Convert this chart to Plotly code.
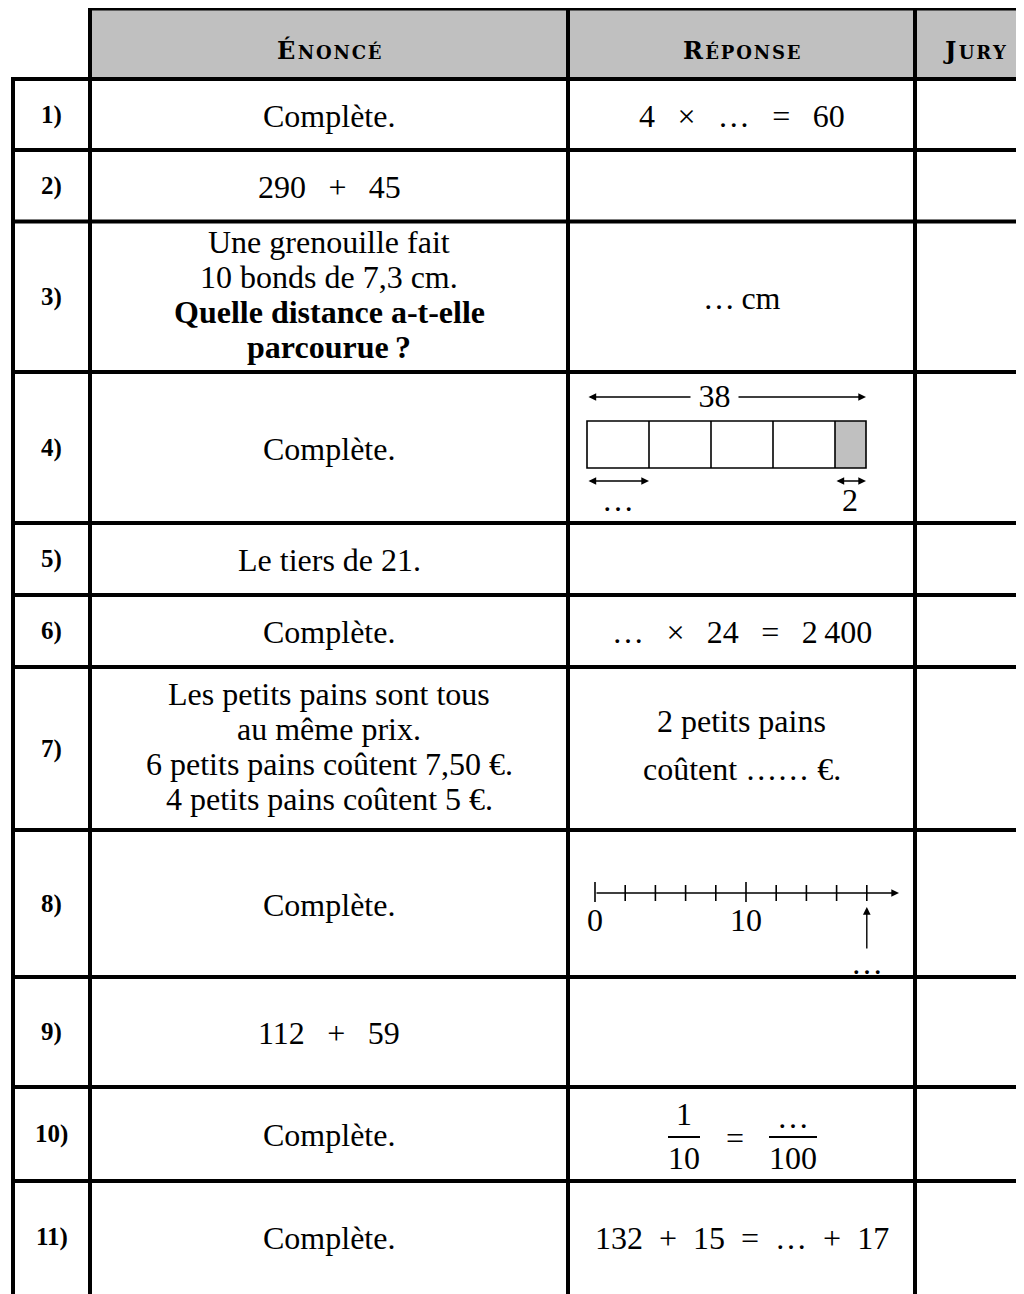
import plotly.graph_objects as go

W, H = 1024, 1294
PAD = 8  # default body margin of the html page
SERIF = "Liberation Serif"
HEAD = "DejaVu Serif"
GRAY = "#c0c0c0"

# --- content -------------------------------------------------------------
headers = ["Énoncé", "Réponse", "Jury"]
row_labels = ["1)", "2)", "3)", "4)", "5)", "6)", "7)", "8)", "9)", "10)", "11)"]

G = "\u2002\u2009"   # math spacing around operators
enonce = [
    ["Complète."],
    ["290" + G + "+" + G + "45"],
    ["Une grenouille fait", "10 bonds de 7,3 cm.",
     "<b>Quelle distance a-t-elle</b>", "<b>parcourue\u2009?</b>"],
    ["Complète."],
    ["Le tiers de 21."],
    ["Complète."],
    ["Les petits pains sont tous", "au même prix.",
     "6 petits pains coûtent 7,50 €.", "4 petits pains coûtent 5 €."],
    ["Complète."],
    ["112" + G + "+" + G + "59"],
    ["Complète."],
    ["Complète."],
]
reponse = [
    ["4" + G + "×" + G + "…" + G + "=" + G + "60"],
    [],
    ["…\u2009cm"],
    "bar",
    [],
    ["…" + G + "×" + G + "24" + G + "=" + G + "2\u2009400"],
    ["2 petits pains", "coûtent …… €."],
    "numberline",
    [],
    "fraction",
    ["132\u2002+\u200215\u2002=\u2002…\u2002+\u200217"],
]

# bar model (row 4)
bar_total = "38"
bar_cells = 4
bar_rest = "2"
bar_unknown = "…"

# number line (row 8)
nl_ticks = [0, 2, 4, 6, 8, 10, 12, 14, 16, 18]
nl_major = [0, 10]
nl_target = 18
nl_target_label = "…"

# fraction (row 10)
frac_left = ("1", "10")
frac_right = ("…", "100")

# --- layout of the grid (page pixels) -------------------------------------
col_x = [13, 90, 568, 915, W + PAD]
row_y = [8.5, 79, 150, 221.5, 372, 523, 595, 667, 830, 977, 1087, 1181, H + PAD]

fig = go.Figure()
shapes = []
ann = []


def line(x0, y0, x1, y1, w=4):
    shapes.append(dict(type="line", xref="x", yref="y", x0=x0, y0=y0, x1=x1, y1=y1,
                       line=dict(color="black", width=w)))


def text(x, y, s, size=32, family=SERIF, bold=False, bg=None):
    if bold:
        s = "<b>" + s + "</b>"
    a = dict(x=x, y=y, xref="x", yref="y", text=s, showarrow=False,
             xanchor="center", yanchor="middle",
             font=dict(family=family, size=size, color="black"))
    if bg:
        a["bgcolor"] = bg
    ann.append(a)


def arrow(x0, y0, x1, y1, both=False):
    ann.append(dict(x=x1, y=y1, ax=x0, ay=y0, xref="x", yref="y", axref="x", ayref="y",
                    text="", showarrow=True, arrowhead=2, arrowsize=1.1, arrowwidth=1.4,
                    arrowcolor="black", arrowside="end+start" if both else "end"))


def smallcaps(word, small=18):
    rest = "\u200a".join(word[1:].upper())
    return ("<b>" + word[0].upper() + "\u200a<span style='font-size:%dpx'>%s</span></b>"
            % (small, rest))


# header band
shapes.append(dict(type="rect", xref="x", yref="y", x0=col_x[1], x1=col_x[4], y0=row_y[0], y1=row_y[1],
                   fillcolor=GRAY, line=dict(width=0), layer="below"))
for i, h in enumerate(headers):
    cx = (col_x[i + 1] + col_x[i + 2]) / 2 if i < 2 else 975
    text(cx, 50, smallcaps(h), size=24, family=HEAD)

# grid lines
line(col_x[1] - 2, row_y[0], col_x[4], row_y[0])
for y in row_y[1:-1]:
    line(col_x[0] - 2, y, col_x[4], y)
line(col_x[0], row_y[1], col_x[0], row_y[-1])
for x in col_x[1:4]:
    line(x, row_y[0] - 2, x, row_y[-1])

# rows
for r in range(len(row_labels)):
    top, bot = row_y[r + 1], row_y[r + 2]
    mid = (top + bot) / 2
    if r == len(row_labels) - 1:
        mid = 1237
    text((col_x[0] + col_x[1]) / 2, mid, row_labels[r], size=25, bold=True)

    cx = (col_x[1] + col_x[2]) / 2
    lines = enonce[r]
    n = len(lines)
    for k, s in enumerate(lines):
        y = (mid - 2 if n > 1 else mid + 1) + (k - (n - 1) / 2) * 35
        text(cx, y, s)

    rx = (col_x[2] + col_x[3]) / 2
    rep = reponse[r]
    if isinstance(rep, list):
        n = len(rep)
        for k, s in enumerate(rep):
            y = (mid - 4 if n > 1 else mid + 1) + (k - (n - 1) / 2) * 48
            text(rx, y, s)

    elif rep == "bar":
        left, cw, rw, yt, yb = 587, 62, 31, 421, 468
        right = left + bar_cells * cw + rw
        shapes.append(dict(type="rect", xref="x", yref="y", x0=left + bar_cells * cw, x1=right,
                           y0=yt, y1=yb, fillcolor=GRAY, line=dict(width=0)))
        shapes.append(dict(type="rect", xref="x", yref="y", x0=left, x1=right, y0=yt, y1=yb,
                           line=dict(color="black", width=1.6)))
        for c in range(1, bar_cells + 1):
            line(left + c * cw, yt, left + c * cw, yb, w=1.6)
        arrow(left, 397, right, 397, both=True)
        text((left + right) / 2 - 12, 396, "\u2009" + bar_total + "\u2009", bg="white")
        arrow(left, 481, left + cw, 481, both=True)
        arrow(right - rw, 481, right, 481, both=True)
        text(left + cw / 2, 500, bar_unknown)
        text(right - rw / 2 - 1, 500, bar_rest)

    elif rep == "numberline":
        x0, unit, yl = 595, 15.1, 893
        xs, ys = [], []
        for t in nl_ticks:
            h = 11 if t in nl_major else 8
            xs += [x0 + t * unit, x0 + t * unit, None]
            ys += [yl - h, yl + h - 2 if t in nl_major else yl + h, None]
        fig.add_trace(go.Scatter(x=xs, y=ys, mode="lines", line=dict(color="black", width=1.6),
                                 hoverinfo="skip"))
        arrow(x0, yl, 899, yl)
        for t in nl_major:
            text(x0 + t * unit, 920, str(t))
        tx = x0 + nl_target * unit
        arrow(tx, 950, tx, 907)
        text(tx, 963, nl_target_label)

    elif rep == "fraction":
        for (num, den), fx in zip([frac_left, frac_right], [684, 793]):
            half = 16 if len(den) == 2 else 24
            line(fx - half, 1137, fx + half, 1137, w=2)
            text(fx, 1114 if num != "…" else 1117, num)
            text(fx, 1158, den)
        text(735, 1138, "=")

fig.update_layout(
    width=W, height=H, margin=dict(l=0, r=0, t=0, b=0),
    plot_bgcolor="white", paper_bgcolor="white", showlegend=False,
    shapes=shapes, annotations=ann,
    xaxis=dict(range=[PAD, W + PAD], visible=False, fixedrange=True),
    yaxis=dict(range=[H + PAD, PAD], visible=False, fixedrange=True),
)
fig.write_html("out.html")
